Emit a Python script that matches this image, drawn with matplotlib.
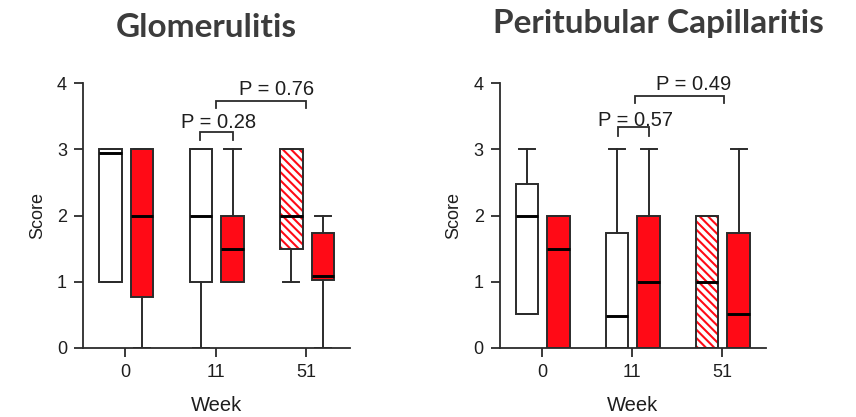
import matplotlib
matplotlib.use("Agg")
import matplotlib.pyplot as plt
from matplotlib.patches import PathPatch

plt.rcParams['font.family'] = ['Liberation Sans', 'DejaVu Sans']
plt.rcParams['hatch.linewidth'] = 1.5

# ---- data -------------------------------------------------------------
weeks = ['0', '11', '51']

# Glomerulitis: first box of each pair (white / hatched), second box (red)
glom_ctrl_med = [2.95, 2.0, 2.0]
glom_ctrl_q1 = [1.0, 1.0, 1.5]
glom_ctrl_q3 = [3.0, 3.0, 3.0]
glom_ctrl_lo = [1.0, 0.0, 1.0]
glom_ctrl_hi = [3.0, 3.0, 3.0]

glom_trt_med = [2.0, 1.5, 1.08]
glom_trt_q1 = [0.77, 1.0, 1.02]
glom_trt_q3 = [3.0, 2.0, 1.73]
glom_trt_lo = [0.0, 1.0, 0.0]
glom_trt_hi = [3.0, 3.0, 2.0]

# Peritubular capillaritis
ptc_ctrl_med = [2.0, 0.48, 1.0]
ptc_ctrl_q1 = [0.52, 0.0, 0.0]
ptc_ctrl_q3 = [2.48, 1.73, 2.0]
ptc_ctrl_lo = [0.52, 0.0, 0.0]
ptc_ctrl_hi = [3.0, 3.0, 2.0]

ptc_trt_med = [1.5, 1.0, 0.52]
ptc_trt_q1 = [0.0, 0.0, 0.0]
ptc_trt_q3 = [2.0, 2.0, 1.73]
ptc_trt_lo = [0.0, 0.0, 0.0]
ptc_trt_hi = [2.0, 3.0, 3.0]

glom_pvals = ['P = 0.28', 'P = 0.76']
ptc_pvals = ['P = 0.57', 'P = 0.49']

# ---- style ------------------------------------------------------------
RED = '#ff0a16'
EDGE = '#2b2b2b'
TXT = '#1e1e1e'
OFF_CTRL, OFF_TRT = -0.165, 0.185
BOX_W = 0.25
CAP_W = 0.18
LW = 1.4


def stats(med, q1, q3, lo, hi):
    return [dict(med=m, q1=a, q3=b, whislo=l, whishi=h, fliers=[])
            for m, a, b, l, h in zip(med, q1, q3, lo, hi)]


def draw_boxes(ax, st, positions, faces, hatched):
    art = ax.bxp(st, positions=positions, widths=BOX_W, capwidths=CAP_W,
                 patch_artist=True, showfliers=False, manage_ticks=False,
                 boxprops=dict(edgecolor=EDGE, linewidth=LW),
                 whiskerprops=dict(color=EDGE, linewidth=LW),
                 capprops=dict(color=EDGE, linewidth=LW),
                 medianprops=dict(color='black', linewidth=2.1,
                                  solid_capstyle='butt'))
    for i, box in enumerate(art['boxes']):
        box.set_facecolor(faces[i])
        if hatched[i]:
            # striped fill underneath, dark outline on top
            box.set_edgecolor(RED)
            box.set_hatch('\\\\\\\\')
            box.set_linewidth(0)
            ax.add_patch(PathPatch(box.get_path(), facecolor='none',
                                   edgecolor=EDGE, linewidth=LW, zorder=2.5))
    for m in art['medians']:
        m.set_zorder(3)
    return art


def bracket(ax, x0, x1, ytop, ybot):
    ax.plot([x0, x0, x1, x1], [ybot, ytop, ytop, ybot], color=EDGE,
            linewidth=1.3, clip_on=False, solid_joinstyle='miter')


def panel(ax, ctrl, trt, pvals, brackets, ptext):
    xs = list(range(len(weeks)))
    draw_boxes(ax, ctrl, [x + OFF_CTRL for x in xs],
               ['white', 'white', 'white'], [False, False, True])
    draw_boxes(ax, trt, [x + OFF_TRT for x in xs],
               [RED, RED, RED], [False, False, False])
    for (x0, x1, yt, yb) in brackets:
        bracket(ax, x0, x1, yt, yb)
    for txt, (tx, ty) in zip(pvals, ptext):
        ax.text(tx, ty, txt, ha='center', va='baseline', fontsize=14.5,
                color=TXT, zorder=4)

    ax.set_xlim(-0.47, 2.485)
    ax.set_ylim(0, 4)
    ax.set_xticks(xs)
    ax.set_xticklabels(weeks)
    ax.set_yticks([0, 1, 2, 3, 4])
    for s in ('top', 'right'):
        ax.spines[s].set_visible(False)
    for s in ('left', 'bottom'):
        ax.spines[s].set_color(EDGE)
        ax.spines[s].set_linewidth(1.3)
    ax.tick_params(length=6.5, width=1.3, color=EDGE, labelsize=13,
                   labelcolor=TXT, pad=5)
    ax.set_ylabel('Score', fontsize=13, color=TXT, labelpad=8)
    ax.set_xlabel('Week', fontsize=14.5, color=TXT, labelpad=10.5)


fig = plt.figure(figsize=(8.56, 4.17), dpi=100)
H = 417.0
ax1 = fig.add_axes([83 / 856, (H - 348) / H, 267 / 856, 265 / H])
ax2 = fig.add_axes([499.7 / 856, (H - 348) / H, 266 / 856, 265 / H])

panel(ax1,
      stats(glom_ctrl_med, glom_ctrl_q1, glom_ctrl_q3, glom_ctrl_lo, glom_ctrl_hi),
      stats(glom_trt_med, glom_trt_q1, glom_trt_q3, glom_trt_lo, glom_trt_hi),
      glom_pvals,
      [(0.83, 1.19, 3.26, 3.14), (1.0, 2.0, 3.73, 3.62)],
      [(1.03, 3.32), (1.67, 3.82)])

panel(ax2,
      stats(ptc_ctrl_med, ptc_ctrl_q1, ptc_ctrl_q3, ptc_ctrl_lo, ptc_ctrl_hi),
      stats(ptc_trt_med, ptc_trt_q1, ptc_trt_q3, ptc_trt_lo, ptc_trt_hi),
      ptc_pvals,
      [(0.84, 1.19, 3.33, 3.20), (1.03, 2.02, 3.81, 3.70)],
      [(1.035, 3.35), (1.685, 3.89)])

title_kw = dict(ha='center', va='baseline', fontsize=24, fontweight='bold',
                color='#3c3c3c', family=['Lato', 'DejaVu Sans'])
fig.text(206.5 / 856, 1 - 37 / H, 'Glomerulitis', **title_kw)
fig.text(658 / 856, 1 - 33 / H, 'Peritubular Capillaritis', **title_kw)

fig.savefig('out.png', dpi=100)
